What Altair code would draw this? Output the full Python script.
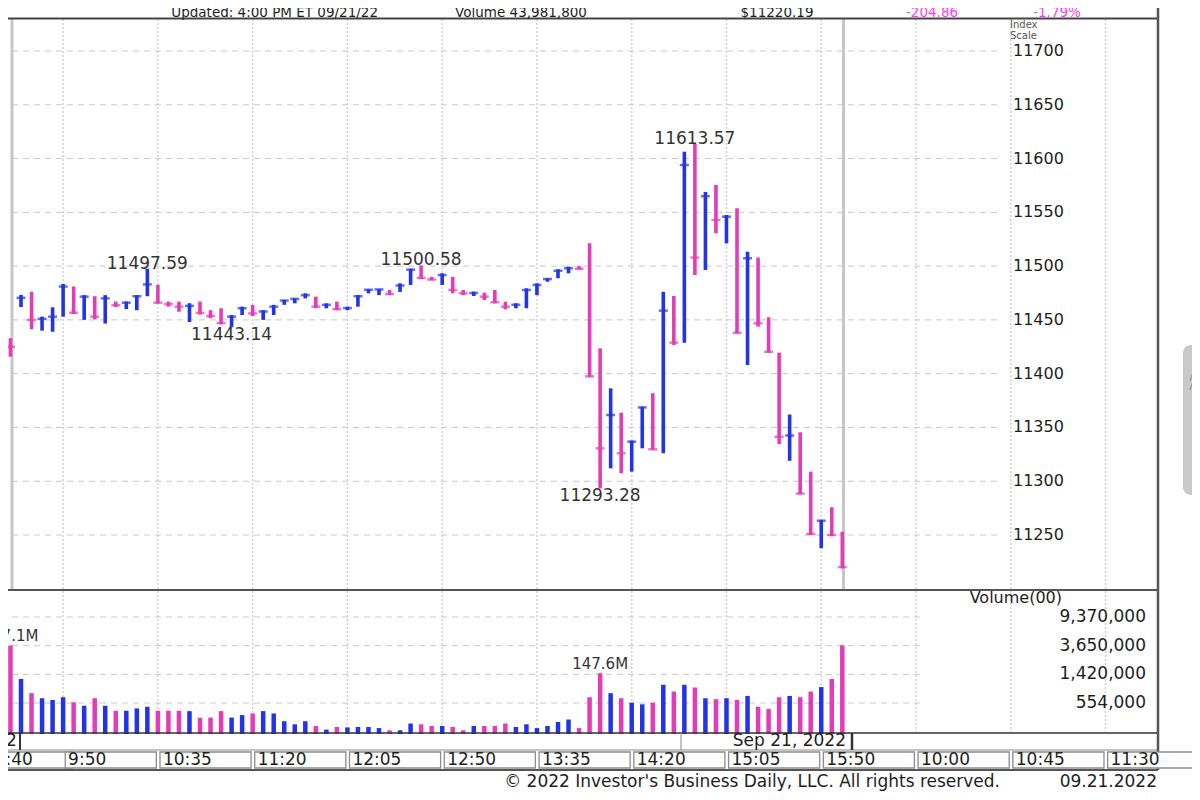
import altair as alt
import pandas as pd

# ---------------- data ----------------
# bar index: 0 = 9:30 on Sep 21 2022 (5-minute bars); -2,-1 = last bars of Sep 20
bar_index = list(range(-2, 79))

highs = [
    11437.6, 11433.0,
    11473.2, 11476.2, 11453.0, 11461.7, 11483.4, 11481.0, 11473.0, 11472.0, 11473.0, 11467.0,
    11467.0, 11473.0, 11497.59, 11482.5, 11467.0, 11467.0, 11465.5, 11467.0, 11459.0, 11460.8,
    11454.5, 11462.3, 11463.9, 11459.0, 11464.0, 11468.5, 11470.0, 11474.7, 11471.6, 11465.4,
    11467.0, 11462.3, 11473.0, 11478.5, 11478.5, 11477.8, 11484.0, 11497.5, 11500.58, 11490.0,
    11493.3, 11490.0, 11477.8, 11476.3, 11475.3, 11477.8, 11467.0, 11465.4, 11479.4, 11484.0,
    11488.7, 11497.0, 11499.5, 11500.0, 11521.2, 11423.6, 11386.4, 11363.7, 11337.7, 11369.3,
    11381.8, 11476.2, 11472.2, 11606.4, 11613.57, 11569.0, 11575.4, 11547.5, 11553.8, 11513.4,
    11508.0, 11452.4, 11419.5, 11362.0, 11345.5, 11308.9, 11264.0, 11275.8, 11253.0,
]
lows = [
    11425.0, 11415.8,
    11462.0, 11441.3, 11440.0, 11439.0, 11453.0, 11455.5, 11450.0, 11450.5, 11446.6, 11462.0,
    11460.0, 11459.0, 11472.0, 11465.4, 11462.3, 11457.6, 11448.0, 11455.0, 11451.5, 11446.0,
    11443.14, 11454.5, 11453.6, 11450.0, 11454.5, 11464.0, 11465.4, 11470.0, 11460.8, 11460.8,
    11459.0, 11459.0, 11462.3, 11474.7, 11473.0, 11473.0, 11476.0, 11482.5, 11488.0, 11487.0,
    11482.5, 11474.7, 11473.0, 11472.2, 11468.5, 11465.4, 11459.8, 11460.8, 11460.8, 11473.0,
    11485.5, 11488.7, 11493.3, 11497.0, 11397.2, 11293.28, 11312.0, 11307.4, 11308.9, 11330.6,
    11329.1, 11326.0, 11426.7, 11428.8, 11491.7, 11496.4, 11530.5, 11521.2, 11437.5, 11408.0,
    11443.7, 11419.5, 11334.5, 11319.0, 11288.0, 11250.0, 11237.7, 11249.0, 11219.0,
]
closes = [
    11428.0, 11425.05,
    11470.5, 11450.0, 11451.0, 11453.0, 11481.0, 11456.7, 11471.6, 11453.0, 11470.0, 11463.6,
    11466.0, 11472.0, 11483.0, 11466.0, 11464.6, 11462.3, 11463.0, 11456.5, 11453.6, 11447.0,
    11453.0, 11460.8, 11456.0, 11457.7, 11462.3, 11468.0, 11469.5, 11473.0, 11462.3, 11464.0,
    11460.0, 11461.0, 11472.0, 11478.0, 11478.3, 11474.0, 11482.0, 11496.7, 11489.0, 11487.5,
    11491.7, 11477.8, 11474.7, 11475.0, 11471.6, 11466.4, 11462.3, 11464.0, 11477.8, 11482.5,
    11488.0, 11495.7, 11498.0, 11497.5, 11397.5, 11330.6, 11361.6, 11326.0, 11336.8, 11368.6,
    11329.7, 11458.6, 11428.8, 11594.0, 11508.0, 11565.0, 11542.9, 11546.0, 11438.0, 11507.3,
    11446.8, 11420.4, 11341.4, 11342.5, 11288.5, 11251.0, 11263.3, 11250.0, 11220.19,
]
# colour of each bar as seen: U = blue (up), D = pink (down)
directions = list(
    "DD"
    "UDUUUDUDUD"
    "UUUDDDUDDD"
    "UUDUUUUUDU"
    "DUUUUDUUDD"
    "UDDUDDDUUU"
    "UUUDDDUDUU"
    "DUDUDUDUDU"
    "DDDUDDUDD"
)
volumes = [  # in hundreds of shares
    1008000, 3671000,
    1219000, 765000, 648000, 612000, 670000, 567000, 506000, 648000, 506000, 429000,
    429000, 464000, 490000, 429000, 429000, 429000, 424000, 340000, 343000, 424000,
    343000, 372000, 393000, 424000, 393000, 304000, 275000, 304000, 260000, 231000,
    252000, 248000, 252000, 252000, 243000, 226000, 226000, 282000, 275000, 260000,
    260000, 252000, 226000, 260000, 260000, 260000, 282000, 252000, 275000, 243000,
    260000, 297000, 322000, 243000, 670000, 1476000, 765000, 648000, 559000, 531000,
    559000, 1008000, 807000, 1008000, 922000, 648000, 627000, 648000, 612000, 699000,
    490000, 454000, 670000, 699000, 670000, 807000, 934000, 1219000, 3692000,
]

price_ticks = [11250, 11300, 11350, 11400, 11450, 11500, 11550, 11600, 11650, 11700]
volume_ticks = [554000, 1420000, 3650000, 9370000]
volume_tick_labels = ["554,000", "1,420,000", "3,650,000", "9,370,000"]

time_positions = [-4, 4, 13, 22, 31, 40, 49, 58, 67, 76, 85, 94, 103]
time_labels = ["15:40", "9:50", "10:35", "11:20", "12:05", "12:50", "13:35",
               "14:20", "15:05", "15:50", "10:00", "10:45", "11:30"]

high_note_index = [12, 38, 64]
high_note_value = [11497.59, 11500.58, 11613.57]
low_note_index = [20, 55]
low_note_value = [11443.14, 11293.28]
vol_note_index = [-1, 55]
vol_note_value = [3671000, 1476000]
vol_note_text = ["367.1M", "147.6M"]

day_label_index = [-0.4, 78.35]
day_labels = ["Sep 20, 2022", "Sep 21, 2022"]

# ---------------- tables ----------------
bars = pd.DataFrame({
    "i": bar_index, "high": highs, "low": lows, "close": closes,
    "dir": ["up" if d == "U" else "down" for d in directions], "vol": volumes,
})
ptk = pd.DataFrame({"v": price_ticks, "label": [str(v) for v in price_ticks]})
vtk = pd.DataFrame({"v": volume_ticks, "label": volume_tick_labels})
tlab = pd.DataFrame({"pos": time_positions, "label": time_labels})
grid = pd.DataFrame({"pos": time_positions[1:]})
hnote = pd.DataFrame({"i": high_note_index, "v": high_note_value,
                      "label": [f"{v:.2f}" for v in high_note_value]})
lnote = pd.DataFrame({"i": low_note_index, "v": low_note_value,
                      "label": [f"{v:.2f}" for v in low_note_value]})
vnote = pd.DataFrame({"i": vol_note_index, "v": vol_note_value, "label": vol_note_text})
dlab = pd.DataFrame({"pos": day_label_index, "label": day_labels})
ONE = pd.DataFrame({"k": [0]})

BLUE = "#2233e8"
PINK = "#e43cb6"
MAGENTA = "#ff3cf0"
TXT = "#1e1e1e"
FONT = "DejaVu Sans"

# the page has an 8px margin: every page position p is drawn at p - 8
O = 8


def P(p):
    return p - O


XS = alt.Scale(domain=[0, 78], range=[P(21), P(842.3)], nice=False, zero=False)
PY = alt.Scale(domain=[11250, 11700], range=[P(535), P(51)], nice=False, zero=False)
VY = alt.Scale(type="log", domain=[554000, 9370000], range=[P(703), P(617)], nice=False)
COL = alt.Color("dir:N", scale=alt.Scale(domain=["up", "down"], range=[BLUE, PINK]), legend=None)


def X(field):
    return alt.X(field, scale=XS, axis=None)


def hrule(y, x1, x2, color="#555555", w=1.5, dash=None):
    kw = {"color": color, "strokeWidth": w}
    if dash:
        kw["strokeDash"] = dash
    return alt.Chart(ONE).mark_rule(**kw).encode(
        x=alt.value(P(x1)), x2=alt.value(P(x2)), y=alt.value(P(y)))


def vrule(x, y1, y2, color="#555555", w=1.5):
    return alt.Chart(ONE).mark_rule(color=color, strokeWidth=w).encode(
        x=alt.value(P(x)), y=alt.value(P(y1)), y2=alt.value(P(y2)))


def txt(s, x, y, size, color=TXT, align="left", weight="normal", angle=0):
    return alt.Chart(ONE).mark_text(
        text=s, font=FONT, fontSize=size, color=color, align=align, angle=angle,
        baseline="middle", fontWeight=weight).encode(x=alt.value(P(x)), y=alt.value(P(y)))


layers = []

# vertical dotted grid (time)
layers.append(alt.Chart(grid).mark_rule(color="#d2d2d2", strokeWidth=1.5, strokeDash=[2, 2]).encode(
    x=X("pos:Q"), y=alt.value(P(19)), y2=alt.value(P(732))))
# price horizontal dashed grid
layers.append(alt.Chart(ptk).mark_rule(color="#c9c9c9", strokeWidth=1, strokeDash=[6, 5]).encode(
    x=alt.value(P(12)), x2=alt.value(P(1000)), y=alt.Y("v:Q", scale=PY, axis=None)))
# volume horizontal dashed grid
layers.append(alt.Chart(vtk).mark_rule(color="#c9c9c9", strokeWidth=1, strokeDash=[6, 5]).encode(
    x=alt.value(P(12)), x2=alt.value(P(920)), y=alt.Y("v:Q", scale=VY, axis=None)))
# day separators
layers.append(vrule(12, 19, 590, "#c6c6c6", 3))
layers.append(vrule(843.5, 19, 590, "#c6c6c6", 3))

# price bars
layers.append(alt.Chart(bars).mark_rule(strokeWidth=3.6).encode(
    x=X("i:Q"), y=alt.Y("high:Q", scale=PY, axis=None), y2="low:Q", color=COL))
layers.append(alt.Chart(bars).mark_tick(orient="horizontal", size=9, thickness=2.5).encode(
    x=X("i:Q"), y=alt.Y("close:Q", scale=PY, axis=None), color=COL))

# volume bars
layers.append(alt.Chart(bars).mark_rule(strokeWidth=4.5).encode(
    x=X("i:Q"), y=alt.Y("vol:Q", scale=VY, axis=None), y2=alt.datum(200000), color=COL))

# annotations
layers.append(alt.Chart(hnote).mark_text(font=FONT, fontSize=17, color="#333333", baseline="bottom", dy=4).encode(
    x=X("i:Q"), y=alt.Y("v:Q", scale=PY, axis=None), text="label:N"))
layers.append(alt.Chart(lnote).mark_text(font=FONT, fontSize=17, color="#333333", baseline="top", dy=0).encode(
    x=X("i:Q"), y=alt.Y("v:Q", scale=PY, axis=None), text="label:N"))
layers.append(alt.Chart(vnote).mark_text(font=FONT, fontSize=15, color="#333333", baseline="bottom", dy=-1).encode(
    x=X("i:Q"), y=alt.Y("v:Q", scale=VY, axis=None), text="label:N"))

# right-hand scales
layers.append(alt.Chart(ptk).mark_text(font=FONT, fontSize=16, color=TXT, align="left", baseline="middle").encode(
    x=alt.value(P(1013)), y=alt.Y("v:Q", scale=PY, axis=None), text="label:N"))
layers.append(alt.Chart(vtk).mark_text(font=FONT, fontSize=17, color=TXT, align="right", baseline="middle").encode(
    x=alt.value(P(1146)), y=alt.Y("v:Q", scale=VY, axis=None), text="label:N"))
layers.append(txt("Index", 1010, 24.5, 10, "#555555"))
layers.append(txt("Scale", 1010, 35.5, 10, "#555555"))
layers.append(txt("Volume(00)", 1062, 598, 16, TXT, "right"))

# frame
layers.append(hrule(18.5, 0, 1158, "#444444", 2))
layers.append(hrule(590, 0, 1158, "#555555", 2))
layers.append(hrule(733, 0, 1158, "#333333", 1.5))
layers.append(hrule(750, 0, 1158, "#888888", 1))
layers.append(hrule(770, 0, 1158, "#555555", 2))
layers.append(vrule(1158, 0, 770, "#555555", 2.5))

# date row
layers.append(alt.Chart(dlab).mark_text(font=FONT, fontSize=17, color=TXT, align="right", baseline="middle").encode(
    x=X("pos:Q"), y=alt.value(P(741)), text="label:N"))
layers.append(vrule(20, 733, 750, "#333333", 2))
layers.append(vrule(852, 733, 750, "#333333", 2.5))
layers.append(vrule(681, 733, 750, "#888888", 1))

# time row boxes and labels
layers.append(alt.Chart(tlab).transform_calculate(a="datum.pos + 0.2", b="datum.pos + 8.85").mark_rect(
    fill="white", stroke="#8c8c8c", strokeWidth=1.3).encode(
    x=X("a:Q"), x2="b:Q", y=alt.value(P(752)), y2=alt.value(P(768))))
layers.append(alt.Chart(tlab).mark_text(font=FONT, fontSize=17, color=TXT, align="left", baseline="middle", dx=5).encode(
    x=X("pos:Q"), y=alt.value(P(760)), text="label:N"))

# header (the page's top 8px are not drawn, so the row sits as low as it can)
HY = 13
layers.append(txt("Updated: 4:00 PM ET 09/21/22", 378, HY, 13.5, TXT, "right"))
layers.append(txt("Volume 43,981,800", 521, HY, 13.5, TXT, "center"))
layers.append(txt("$11220.19", 777, HY, 13.5, TXT, "center"))
layers.append(txt("-204.86", 932, HY, 13.5, MAGENTA, "center"))
layers.append(txt("-1.79%", 1057, HY, 13.5, MAGENTA, "center"))

# footer
layers.append(txt("\u00a9 2022 Investor's Business Daily, LLC. All rights reserved.", 1000, 782, 17, TXT, "right"))
layers.append(txt("09.21.2022", 1157, 782, 17, TXT, "right"))

# side tab of the page
layers.append(alt.Chart(ONE).mark_rect(fill="#c9c9c9", cornerRadius=8).encode(
    x=alt.value(P(1183)), x2=alt.value(P(1199)), y=alt.value(P(345)), y2=alt.value(P(495))))
layers.append(txt("<<", 1192, 382, 11, "#8a8a8a", "center", angle=90))

chart = alt.layer(*layers).resolve_scale(y="independent").properties(
    width=1184, height=784,
    autosize=alt.AutoSizeParams(type="none"),
    padding=0,
).configure_view(strokeWidth=0)

chart.save("out.html", embed_options={"renderer": "svg", "actions": False})
